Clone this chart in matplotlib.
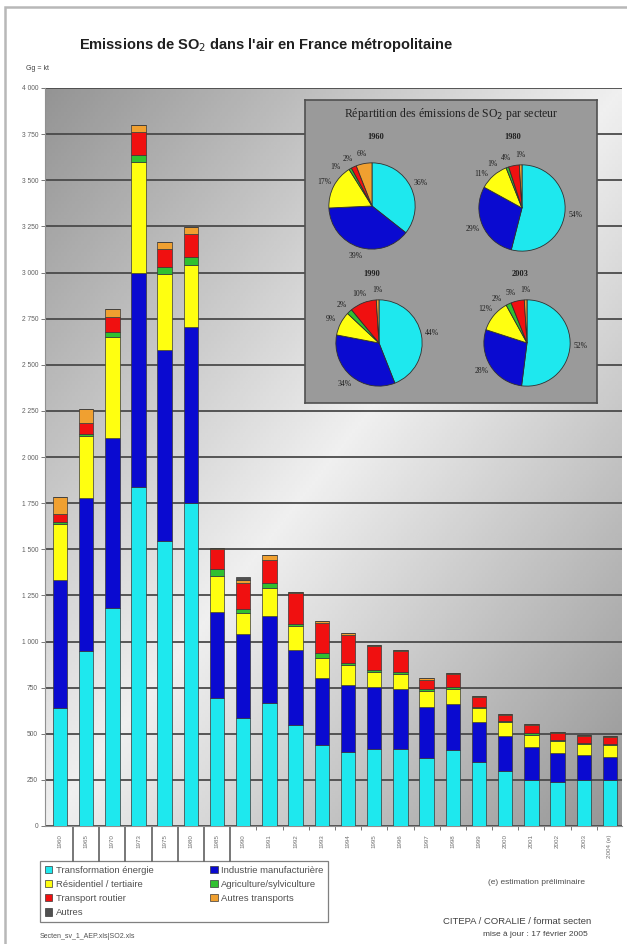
import numpy as np
import matplotlib.pyplot as plt
from matplotlib.patches import Rectangle

plt.rcParams['font.family'] = ['Liberation Sans', 'DejaVu Sans']

# SO2 emissions by sector (kt)
years = ['1960', '1965', '1970', '1973', '1975', '1980', '1985', '1990', '1991', '1992', '1993',
         '1994', '1995', '1996', '1997', '1998', '1999', '2000', '2001', '2002', '2003', '2004 (e)']
transformation = [637, 946, 1181, 1837, 1543, 1752, 692, 583, 665, 549, 438,
                  402, 420, 420, 366, 411, 348, 297, 248, 239, 248, 248]
industrie = [694, 833, 924, 1159, 1038, 951, 466, 455, 471, 406, 363,
             363, 335, 323, 281, 250, 217, 192, 181, 154, 136, 127]
residentiel = [304, 335, 543, 604, 413, 335, 195, 116, 154, 127, 108,
               108, 82, 79, 85, 82, 73, 73, 64, 67, 58, 63]
agriculture = [10, 10, 28, 36, 35, 45, 38, 20, 27, 13, 28,
               9, 9, 15, 11, 9, 9, 7, 9, 6, 9, 8]
routier = [45, 60, 85, 127, 101, 124, 109, 143, 127, 168, 163,
           154, 127, 112, 49, 70, 54, 32, 45, 36, 36, 38]
autres_transports = [94, 77, 43, 36, 33, 38, 8, 19, 23, 5, 12,
                     9, 9, 5, 12, 5, 5, 5, 5, 5, 5, 5]
autres = [0, 0, 0, 0, 0, 0, 0, 12, 0, 0, 0,
          0, 0, 0, 0, 0, 0, 0, 0, 0, 0, 0]

sectors = ['Transformation énergie', 'Industrie manufacturière', 'Résidentiel / tertiaire',
           'Agriculture/sylviculture', 'Transport routier', 'Autres transports', 'Autres']
colors = ['#1ee8ee', '#0a0ad0', '#ffff10', '#30c030', '#f01010', '#f0a030', '#505050']

# sector shares (%) for the pie insets
pie_years = ['1960', '1980', '1990', '2003']
pie_shares = [[36, 39, 17, 1, 2, 6],
              [54, 29, 11, 1, 4, 1],
              [44, 34, 9, 2, 10, 1],
              [52, 28, 12, 2, 5, 1]]

W, H = 627, 944
fig = plt.figure(figsize=(W / 100, H / 100), dpi=100)
fig.patch.set_facecolor('white')

def box(x0, y0, x1, y1):
    # pixel box (top-left origin) -> figure fraction rect
    return [x0 / W, 1 - y1 / H, (x1 - x0) / W, (y1 - y0) / H]

# outer frame
fig.patches.append(Rectangle((5 / W, -0.01), 1.0, 1 - 7 / H + 0.01, transform=fig.transFigure,
                             fill=False, edgecolor='#b8b8b8', lw=1.8))

fig.text(266 / W, 1 - 45 / H, "Emissions de SO$_2$ dans l'air en France métropolitaine",
         ha='center', va='center', fontsize=10.5, fontweight='bold', color='#202020')
fig.text(26 / W, 1 - 68 / H, 'Gg = kt', ha='left', va='center', fontsize=5, color='#404040')

ax = fig.add_axes(box(45, 88, 622, 826))
x = np.arange(len(years))

# diagonal grey gradient background
gy, gx = np.mgrid[0:1:200j, 0:1:200j]
grad = 0.94 - 0.36 * np.abs(gx - gy)
ax.imshow(grad, cmap='gray', vmin=0, vmax=1, extent=(0, 1, 0, 1), origin='lower',
          transform=ax.transAxes, aspect='auto', zorder=0)

series = [transformation, industrie, residentiel, agriculture, routier, autres_transports, autres]
bottom = np.zeros(len(years))
handles = []
for vals, col, name in zip(series, colors, sectors):
    b = ax.bar(x, vals, 0.55, bottom=bottom, color=col, edgecolor='#383838', lw=0.5,
               label=name, zorder=3)
    handles.append(b)
    bottom += np.array(vals)

ax.set_xlim(-0.57, len(years) - 0.54)
ax.set_ylim(0, 4000)
yt = np.arange(0, 4001, 250)
ax.set_yticks(yt)
ax.set_yticklabels([f'{v:,}'.replace(',', ' ') for v in yt], fontsize=4.8, color='#606060')
ax.yaxis.grid(True, color='#4a4a4a', lw=1.3, zorder=1)
ax.tick_params(axis='y', length=3, width=0.6, color='#606060', pad=2)

ax.set_xticks(x)
ax.set_xticklabels(years, rotation=90, fontsize=4.5, color='#707070')
ax.tick_params(axis='x', length=0, pad=6)
ax.set_xticks(x[:-1] + 0.5, minor=True)
ax.tick_params(axis='x', which='minor', length=3, width=0.6, color='#606060')
for i, t in enumerate(ax.xaxis.get_minor_ticks()):
    if i < 7:
        t.tick1line.set_markersize(26)
        t.tick1line.set_markeredgewidth(1.2)
        t.tick1line.set_color('#303030')

for s in ['top', 'right']:
    ax.spines[s].set_visible(False)
ax.spines['left'].set_color('#909090')
ax.spines['bottom'].set_color('#909090')

# legend laid out row by row in two columns
order = [0, 2, 4, 6, 1, 3, 5]
leg = fig.legend([handles[i] for i in order], [sectors[i] for i in order], ncol=2,
                 loc='upper left', bbox_to_anchor=(40 / W, 1 - 861 / H), fontsize=6.8,
                 frameon=True, fancybox=False, edgecolor='#606060', handlelength=0.8,
                 handleheight=0.8, columnspacing=6.0, labelspacing=0.55, borderpad=0.5,
                 handletextpad=0.35, borderaxespad=0)
leg.get_frame().set_linewidth(0.9)
for t in leg.get_texts():
    t.set_color('#505050')

fig.text(536 / W, 1 - 883 / H, '(e) estimation préliminaire', ha='center', va='center',
         fontsize=6, color='#505050')
fig.text(40 / W, 1 - 936 / H, 'Secten_sv_1_AEP.xls|SO2.xls', ha='left', va='center',
         fontsize=5, color='#505050')
fig.text(443 / W, 1 - 922 / H, 'CITEPA / CORALIE / format secten', ha='left', va='center',
         fontsize=6.8, color='#404040')
fig.text(535 / W, 1 - 935 / H, 'mise à jour : 17 février 2005', ha='center', va='center',
         fontsize=6, color='#404040')

# pie inset
serif = ['Liberation Serif', 'DejaVu Serif']
inset = fig.add_axes(box(305, 100, 597, 403))
inset.set_facecolor('#9a9a9a')
inset.set_xticks([])
inset.set_yticks([])
for s in inset.spines.values():
    s.set_color('#505050')
    s.set_linewidth(1.2)
inset.set_zorder(5)
fig.text(451 / W, 1 - 114 / H, 'Répartition des émissions de SO$_2$ par secteur', ha='center',
         va='center', fontsize=8.5, color='#202020', zorder=6, family=serif)

centers = [(372, 206), (522, 208), (379, 343), (527, 343)]
year_pos = [(376, 137), (513, 137), (372, 274), (520, 274)]
r = 44
for (cx, cy), (tx, ty), yr, shares in zip(centers, year_pos, pie_years, pie_shares):
    pax = fig.add_axes(box(cx - r, cy - r, cx + r, cy + r))
    pax.set_zorder(6)
    pax.pie(shares, colors=colors[:6], startangle=90, counterclock=False,
            wedgeprops={'edgecolor': '#303030', 'linewidth': 0.6})
    pax.set_xlim(-1.02, 1.02)
    pax.set_ylim(-1.02, 1.02)
    pax.set_aspect('equal')
    # percentage labels: mid-angles, spread apart where wedges are thin
    fr = np.array(shares, float) / sum(shares)
    ang = 90 - 360 * (np.cumsum(fr) - fr / 2)
    for i in range(len(ang) - 2, -1, -1):
        ang[i] = max(ang[i], ang[i + 1] + 16)
    for a, v in zip(ang, shares):
        rad = np.deg2rad(a)
        pax.text(1.25 * np.cos(rad), 1.22 * np.sin(rad), f'{v}%', ha='center', va='center',
                 fontsize=5.5, color='#202020', family=serif, clip_on=False)
    fig.text(tx / W, 1 - ty / H, yr, ha='center', va='center', fontsize=6,
             fontweight='bold', color='#202020', zorder=7, family=serif)

fig.savefig('out.png', dpi=100)
